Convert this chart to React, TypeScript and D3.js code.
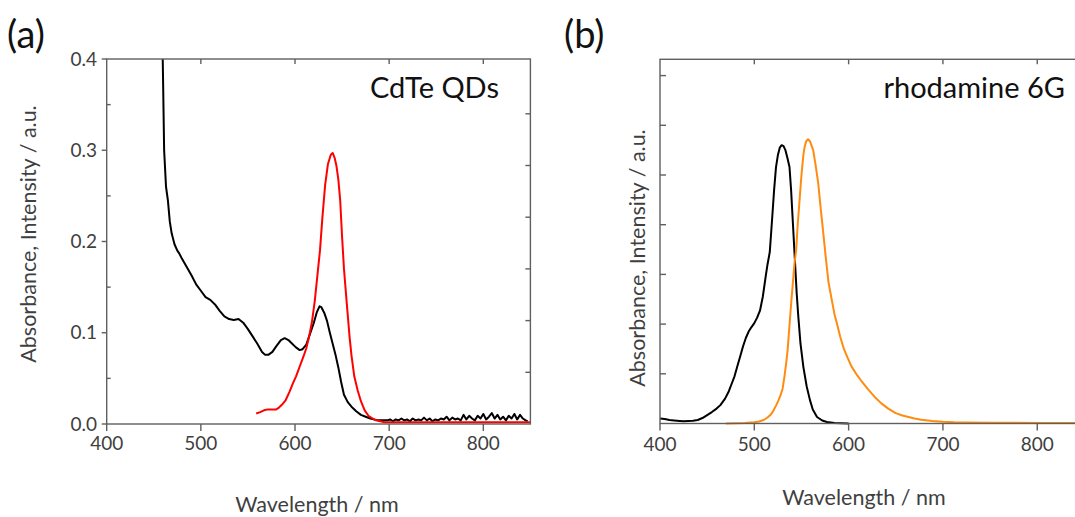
import React from "react";
import * as d3 from "d3";

// ---------- Data ----------
// Panel (a): CdTe QDs  (wavelength nm, value)
const cdteAbsWl = [459.5, 460, 461, 463, 465, 467, 469, 472, 475, 477, 480, 485, 490, 495, 500, 505, 510, 515, 520, 525, 530, 535, 540, 545, 550, 555, 560, 565, 568, 572, 576, 580, 585, 589, 593, 597, 601, 605, 608, 612, 616, 620, 623, 626, 628, 631, 634, 637, 640, 643, 646, 649, 652, 656, 660, 665, 670, 675, 680, 688, 695,
  698, 701, 704, 707, 710, 713, 716, 719, 722, 725, 728, 731, 734, 737, 740, 743, 746, 749, 752, 755, 758, 761, 764, 767, 770, 773, 776, 779, 782, 785, 788, 791, 794, 797, 800, 803, 806, 809, 812, 815, 818, 821, 824, 827, 830, 833, 836, 839, 842, 845, 847];
const cdteAbsVal = [0.40, 0.368, 0.30, 0.26, 0.245, 0.222, 0.209, 0.197, 0.19, 0.187, 0.181, 0.172, 0.163, 0.153, 0.146, 0.139, 0.136, 0.131, 0.124, 0.118, 0.115, 0.114, 0.115, 0.111, 0.104, 0.096, 0.088, 0.079, 0.076, 0.076, 0.079, 0.085, 0.092, 0.094, 0.092, 0.088, 0.084, 0.081, 0.082, 0.087, 0.099, 0.111, 0.122, 0.129, 0.128, 0.122, 0.113, 0.100, 0.088, 0.076, 0.062, 0.046, 0.032, 0.024, 0.019, 0.014, 0.010, 0.008, 0.006, 0.004, 0.004,
  0.004, 0.005, 0.003, 0.005, 0.004, 0.006, 0.004, 0.005, 0.003, 0.006, 0.004, 0.005, 0.004, 0.007, 0.004, 0.006, 0.003, 0.005, 0.004, 0.006, 0.005, 0.008, 0.004, 0.007, 0.005, 0.006, 0.004, 0.010, 0.005, 0.009, 0.006, 0.004, 0.009, 0.006, 0.011, 0.005, 0.008, 0.012, 0.006, 0.010, 0.005, 0.008, 0.004, 0.009, 0.006, 0.011, 0.005, 0.010, 0.006, 0.004, 0.003];

const cdtePlWl = [558.8, 563, 567, 571, 576, 580, 583, 586, 590, 594, 598, 601, 605, 609, 612, 615, 618, 621, 624, 626.5, 629, 632, 635, 638, 640, 642, 644, 646, 648, 650, 652, 655, 658, 660, 663, 666.5, 670, 674, 678, 685, 695, 710, 750, 800, 850];
const cdtePlVal = [0.0115, 0.013, 0.015, 0.016, 0.016, 0.016, 0.018, 0.021, 0.026, 0.035, 0.045, 0.052, 0.063, 0.074, 0.083, 0.096, 0.112, 0.135, 0.165, 0.19, 0.225, 0.262, 0.285, 0.295, 0.297, 0.292, 0.283, 0.268, 0.245, 0.205, 0.170, 0.132, 0.095, 0.075, 0.052, 0.037, 0.025, 0.015, 0.009, 0.0044, 0.002, 0.002, 0.002, 0.002, 0.002];

// Panel (b): rhodamine 6G (wavelength nm, value in tick units)
const r6gAbsWl = [400, 405, 410, 415, 421, 425, 430, 435, 440, 445, 450, 455, 460, 464, 469, 473, 476, 479, 482, 485, 488, 491, 494, 497, 500, 503, 506, 509, 512, 514, 516.4, 519, 521, 523, 525, 527, 529, 531, 533, 535, 537.3, 539, 541, 543, 545, 546.7, 549, 552, 555.5, 559, 562, 566.5, 572, 577, 585, 600];
const r6gAbsVal = [0.10, 0.09, 0.07, 0.06, 0.05, 0.045, 0.05, 0.055, 0.07, 0.11, 0.17, 0.23, 0.30, 0.37, 0.50, 0.65, 0.80, 0.95, 1.15, 1.35, 1.55, 1.72, 1.85, 1.94, 2.02, 2.13, 2.27, 2.55, 2.95, 3.2, 3.45, 4.15, 4.7, 5.16, 5.4, 5.55, 5.6, 5.58, 5.5, 5.35, 5.16, 4.7, 4.0, 3.3, 2.6, 2.14, 1.6, 1.14, 0.75, 0.47, 0.28, 0.13, 0.06, 0.03, 0.01, 0.0];

const r6gPlWl = [469.8, 480, 490, 500, 505, 510, 514, 517, 520, 523, 526, 528, 530, 532, 534, 535.3, 537, 539, 540.8, 542.5, 544.4, 546, 548, 550, 552, 553.4, 555, 557, 559, 560.5, 562.4, 565, 567.8, 570, 573.2, 576, 578.6, 582, 585, 587.6, 591, 595, 598.5, 603, 608, 613, 620, 627.4, 635, 642, 650, 657, 663.5, 670, 677, 688.8, 700, 712, 725, 750, 800, 850];
const r6gPlVal = [0, 0.005, 0.01, 0.025, 0.04, 0.07, 0.12, 0.17, 0.25, 0.36, 0.48, 0.58, 0.7, 0.95, 1.25, 1.47, 1.9, 2.4, 2.81, 3.2, 3.5, 4.0, 4.5, 5.0, 5.4, 5.57, 5.68, 5.72, 5.68, 5.6, 5.5, 5.2, 4.83, 4.4, 3.82, 3.3, 2.85, 2.5, 2.2, 2.01, 1.75, 1.5, 1.34, 1.15, 1.0, 0.87, 0.7, 0.54, 0.4, 0.3, 0.21, 0.16, 0.13, 0.1, 0.075, 0.05, 0.035, 0.025, 0.02, 0.015, 0.012, 0.01];

const xTicks = [400, 500, 600, 700, 800];
const aYTicks = [0.0, 0.1, 0.2, 0.3, 0.4];
const aYMinor = [0.05, 0.15, 0.25, 0.35];
const aRightTicks = [1, 2, 3, 4, 5, 6];
const bYTicks = [1, 2, 3, 4, 5, 6, 7];

const AXIS = "#5f5f5f";
const TEXT = "#3f3f3f";
const FONT = "Lato, 'Open Sans', sans-serif";

type Pt = [number, number];
const zip = (a: number[], b: number[]): Pt[] => a.map((v, i) => [v, b[i]]);

function Path({ data, x, y, color }: { data: Pt[]; x: any; y: any; color: string }) {
  const line = d3.line<Pt>().x((d) => x(d[0])).y((d) => y(d[1]));
  return <path d={line(data) || ""} fill="none" stroke={color} strokeWidth={2} strokeLinejoin="round" />;
}

export default function App() {
  // Panel (a)
  const ax = d3.scaleLinear().domain([400, 850]).range([106.7, 530.4]);
  const ay = d3.scaleLinear().domain([0, 0.4]).range([424, 59]);
  const ay2 = d3.scaleLinear().domain([0, 1]).range([424, 372.3]);
  // Panel (b)
  const bx = d3.scaleLinear().domain([400, 850]).range([660, 1084.4]);
  const by = d3.scaleLinear().domain([0, 1]).range([423.5, 373.8]);

  const aL = ax(400), aR = ax(850), aT = ay(0.4), aB = ay(0);
  const bL = bx(400), bR = bx(850), bT = 59.3, bB = by(0);

  return (
    <svg width={1075} height={517} style={{ position: "absolute", left: 0, top: 0, background: "#fff" }} fontFamily={FONT}>
      {/* ---------- Panel (a) ---------- */}
      <text x={7} y={48} fontSize={38} fill="#111">(a)</text>
      <text x={499} y={98} fontSize={29} fill="#111" textAnchor="end">CdTe QDs</text>
      <text transform={`translate(36,234) rotate(-90)`} fontSize={21.5} fill={TEXT} textAnchor="middle">Absorbance, Intensity / a.u.</text>
      <text x={317} y={512} fontSize={21.5} fill={TEXT} textAnchor="middle">Wavelength / nm</text>

      <Path data={zip(cdteAbsWl, cdteAbsVal)} x={ax} y={ay} color="#000" />
      <Path data={zip(cdtePlWl, cdtePlVal)} x={ax} y={ay} color="#ff0000" />

      <rect x={aL} y={aT} width={aR - aL} height={aB - aT} fill="none" stroke={AXIS} strokeWidth={1.4} />
      {xTicks.map((t) => (
        <g key={"abx" + t}>
          <line x1={ax(t)} x2={ax(t)} y1={aB} y2={aB + 7} stroke={AXIS} strokeWidth={1.4} />
          <text x={ax(t)} y={450} fontSize={19} fill={TEXT} textAnchor="middle">{t}</text>
          {t > 400 && <line x1={ax(t)} x2={ax(t)} y1={aT} y2={aT + 5} stroke={AXIS} strokeWidth={1.4} />}
        </g>
      ))}
      {aYTicks.map((t) => (
        <g key={"aly" + t}>
          <line x1={aL - 5} x2={aL} y1={ay(t)} y2={ay(t)} stroke={AXIS} strokeWidth={1.4} />
          <text x={97} y={ay(t) + 6.5} fontSize={19} fill={TEXT} textAnchor="end">{t.toFixed(1)}</text>
        </g>
      ))}
      {aYMinor.map((t) => (
        <line key={"amy" + t} x1={aL} x2={aL + 4} y1={ay(t)} y2={ay(t)} stroke={AXIS} strokeWidth={1.4} />
      ))}
      {aRightTicks.map((t) => (
        <line key={"ary" + t} x1={aR - 5} x2={aR} y1={ay2(t)} y2={ay2(t)} stroke={AXIS} strokeWidth={1.4} />
      ))}

      {/* ---------- Panel (b) ---------- */}
      <text x={564} y={48} fontSize={38} fill="#111">(b)</text>
      <text x={1065} y={98} fontSize={29} fill="#111" textAnchor="end">rhodamine 6G</text>
      <text transform={`translate(645,258) rotate(-90)`} fontSize={21.5} fill={TEXT} textAnchor="middle">Absorbance, Intensity / a.u.</text>
      <text x={864} y={505} fontSize={21.5} fill={TEXT} textAnchor="middle">Wavelength / nm</text>

      <Path data={zip(r6gAbsWl, r6gAbsVal)} x={bx} y={by} color="#000" />
      <Path data={zip(r6gPlWl, r6gPlVal)} x={bx} y={by} color="#ff8c10" />

      <rect x={bL} y={bT} width={bR - bL} height={bB - bT} fill="none" stroke={AXIS} strokeWidth={1.4} />
      {xTicks.map((t) => (
        <g key={"bbx" + t}>
          <line x1={bx(t)} x2={bx(t)} y1={bB} y2={bB + 7} stroke={AXIS} strokeWidth={1.4} />
          <text x={bx(t)} y={451} fontSize={19} fill={TEXT} textAnchor="middle">{t}</text>
          {t > 400 && <line x1={bx(t)} x2={bx(t)} y1={bT} y2={bT + 5} stroke={AXIS} strokeWidth={1.4} />}
        </g>
      ))}
      {bYTicks.map((t) => (
        <line key={"bly" + t} x1={bL} x2={bL + 6} y1={by(t)} y2={by(t)} stroke={AXIS} strokeWidth={1.4} />
      ))}
    </svg>
  );
}
